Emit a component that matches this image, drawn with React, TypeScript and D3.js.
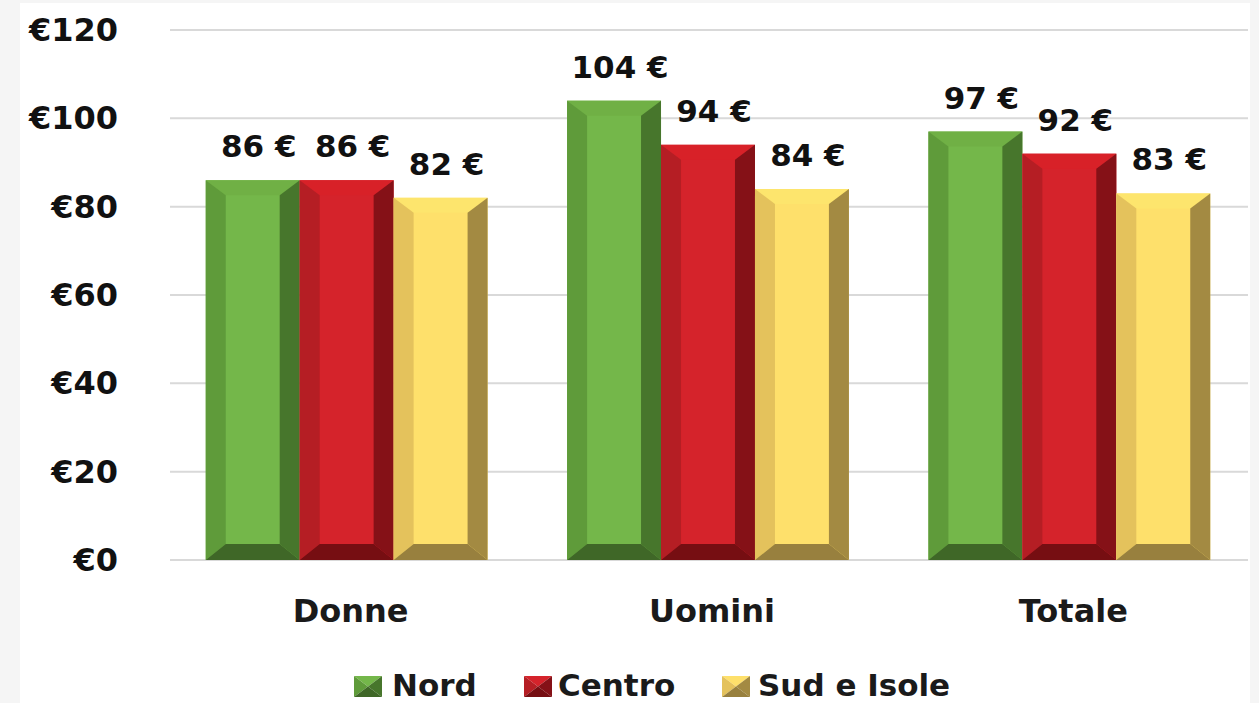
import React from "react";
import * as d3 from "d3";

// Data
const categories = ["Donne", "Uomini", "Totale"];
const seriesNames = ["Nord", "Centro", "Sud e Isole"];
const nord = [86, 104, 97];
const centro = [86, 94, 92];
const sud = [82, 84, 83];
const yTicks = [0, 20, 40, 60, 80, 100, 120];

const seriesValues = [nord, centro, sud];

// Bevel palettes per series: face, top, left, right, bottom
const palettes = [
  { face: "#74b74a", top: "#70b045", left: "#5f9b3a", right: "#47762c", bottom: "#3f6727" },
  { face: "#d5232b", top: "#d82128", left: "#b51e24", right: "#851117", bottom: "#760e12" },
  { face: "#fee06b", top: "#fde56d", left: "#e4c25c", right: "#a38a42", bottom: "#98803e" },
];

const W = 1259;
const H = 703;
const FONT = "'DejaVu Sans', sans-serif";

function BevelBar({ x, y, w, h, p }: { x: number; y: number; w: number; h: number; p: typeof palettes[0] }) {
  const sx = Math.min(20, w / 2);
  const st = Math.min(15, h / 2);
  const sb = Math.min(16, h / 2);
  const x1 = x + w;
  const y1 = y + h;
  const pts = (a: number[][]) => a.map((q) => q.join(",")).join(" ");
  return (
    <g>
      <rect x={x} y={y} width={w} height={h} fill={p.face} />
      <polygon points={pts([[x, y], [x1, y], [x1 - sx, y + st], [x + sx, y + st]])} fill={p.top} />
      <polygon points={pts([[x, y], [x + sx, y + st], [x + sx, y1 - sb], [x, y1]])} fill={p.left} />
      <polygon points={pts([[x1, y], [x1, y1], [x1 - sx, y1 - sb], [x1 - sx, y + st]])} fill={p.right} />
      <polygon points={pts([[x, y1], [x + sx, y1 - sb], [x1 - sx, y1 - sb], [x1, y1]])} fill={p.bottom} />
    </g>
  );
}

function LegendMarker({ x, y, w, h, p }: { x: number; y: number; w: number; h: number; p: typeof palettes[0] }) {
  const cx = x + w / 2;
  const cy = y + h / 2;
  const pts = (a: number[][]) => a.map((q) => q.join(",")).join(" ");
  return (
    <g>
      <polygon points={pts([[x, y], [x + w, y], [cx, cy]])} fill={p.face} />
      <polygon points={pts([[x, y], [cx, cy], [x, y + h]])} fill={p.left} />
      <polygon points={pts([[x + w, y], [x + w, y + h], [cx, cy]])} fill={p.right} />
      <polygon points={pts([[x, y + h], [cx, cy], [x + w, y + h]])} fill={p.bottom} />
    </g>
  );
}

export default function App() {
  const y = d3.scaleLinear().domain([0, 120]).range([560, 30]);
  const x0 = d3.scaleBand<string>().domain(categories).range([166, 1250]).paddingInner(0.22).paddingOuter(0.11);
  const x1 = d3.scaleBand<string>().domain(seriesNames).range([0, x0.bandwidth()]).padding(0);

  const legendItems = [
    { name: "Nord", mx: 354, tx: 392 },
    { name: "Centro", mx: 524, tx: 558 },
    { name: "Sud e Isole", mx: 722, tx: 758 },
  ];

  return (
    <svg
      width={W}
      height={H}
      viewBox={`0 0 ${W} ${H}`}
      style={{ position: "absolute", left: 0, top: 0, display: "block", background: "#ffffff" }}
    >
      {/* frame strips */}
      <rect x={0} y={0} width={W} height={H} fill="#ffffff" />
      <rect x={0} y={0} width={20} height={H} fill="#f5f5f5" />
      <rect x={1250} y={0} width={9} height={H} fill="#f5f5f5" />
      <rect x={0} y={0} width={W} height={3} fill="#f5f5f5" />

      {/* gridlines */}
      {yTicks.map((t) => (
        <line key={t} x1={170} x2={1248} y1={y(t)} y2={y(t)} stroke="#d9d9d9" strokeWidth={2} />
      ))}

      {/* y-axis labels */}
      {yTicks.map((t) => (
        <text
          key={t}
          x={118}
          y={y(t)}
          textAnchor="end"
          dominantBaseline="central"
          fontFamily={FONT}
          fontWeight="bold"
          fontSize={32}
          fill="#111"
        >
          {`€${t}`}
        </text>
      ))}

      {/* bars */}
      {categories.map((c, ci) => (
        <g key={c}>
          {seriesNames.map((s, si) => {
            const v = seriesValues[si][ci];
            const bx = (x0(c) as number) + (x1(s) as number);
            const bw = x1.bandwidth();
            const top = y(v);
            return (
              <g key={s}>
                <BevelBar x={bx} y={top} w={bw} h={y(0) - top} p={palettes[si]} />
                <text
                  x={bx + bw / 2 + 6}
                  y={top - 23}
                  textAnchor="middle"
                  fontFamily={FONT}
                  fontWeight="bold"
                  fontSize={31}
                  fill="#111"
                >
                  {`${v} €`}
                </text>
              </g>
            );
          })}
        </g>
      ))}

      {/* category labels */}
      {categories.map((c) => (
        <text
          key={c}
          x={(x0(c) as number) + x0.bandwidth() / 2 + 4}
          y={622}
          textAnchor="middle"
          fontFamily={FONT}
          fontWeight="bold"
          fontSize={32}
          fill="#1a1a1a"
        >
          {c}
        </text>
      ))}

      {/* legend */}
      {legendItems.map((it, i) => (
        <g key={it.name}>
          <LegendMarker x={it.mx} y={676} w={28} h={21} p={palettes[i]} />
          <text x={it.tx} y={696} fontFamily={FONT} fontWeight="bold" fontSize={31} fill="#1a1a1a">
            {it.name}
          </text>
        </g>
      ))}
    </svg>
  );
}
